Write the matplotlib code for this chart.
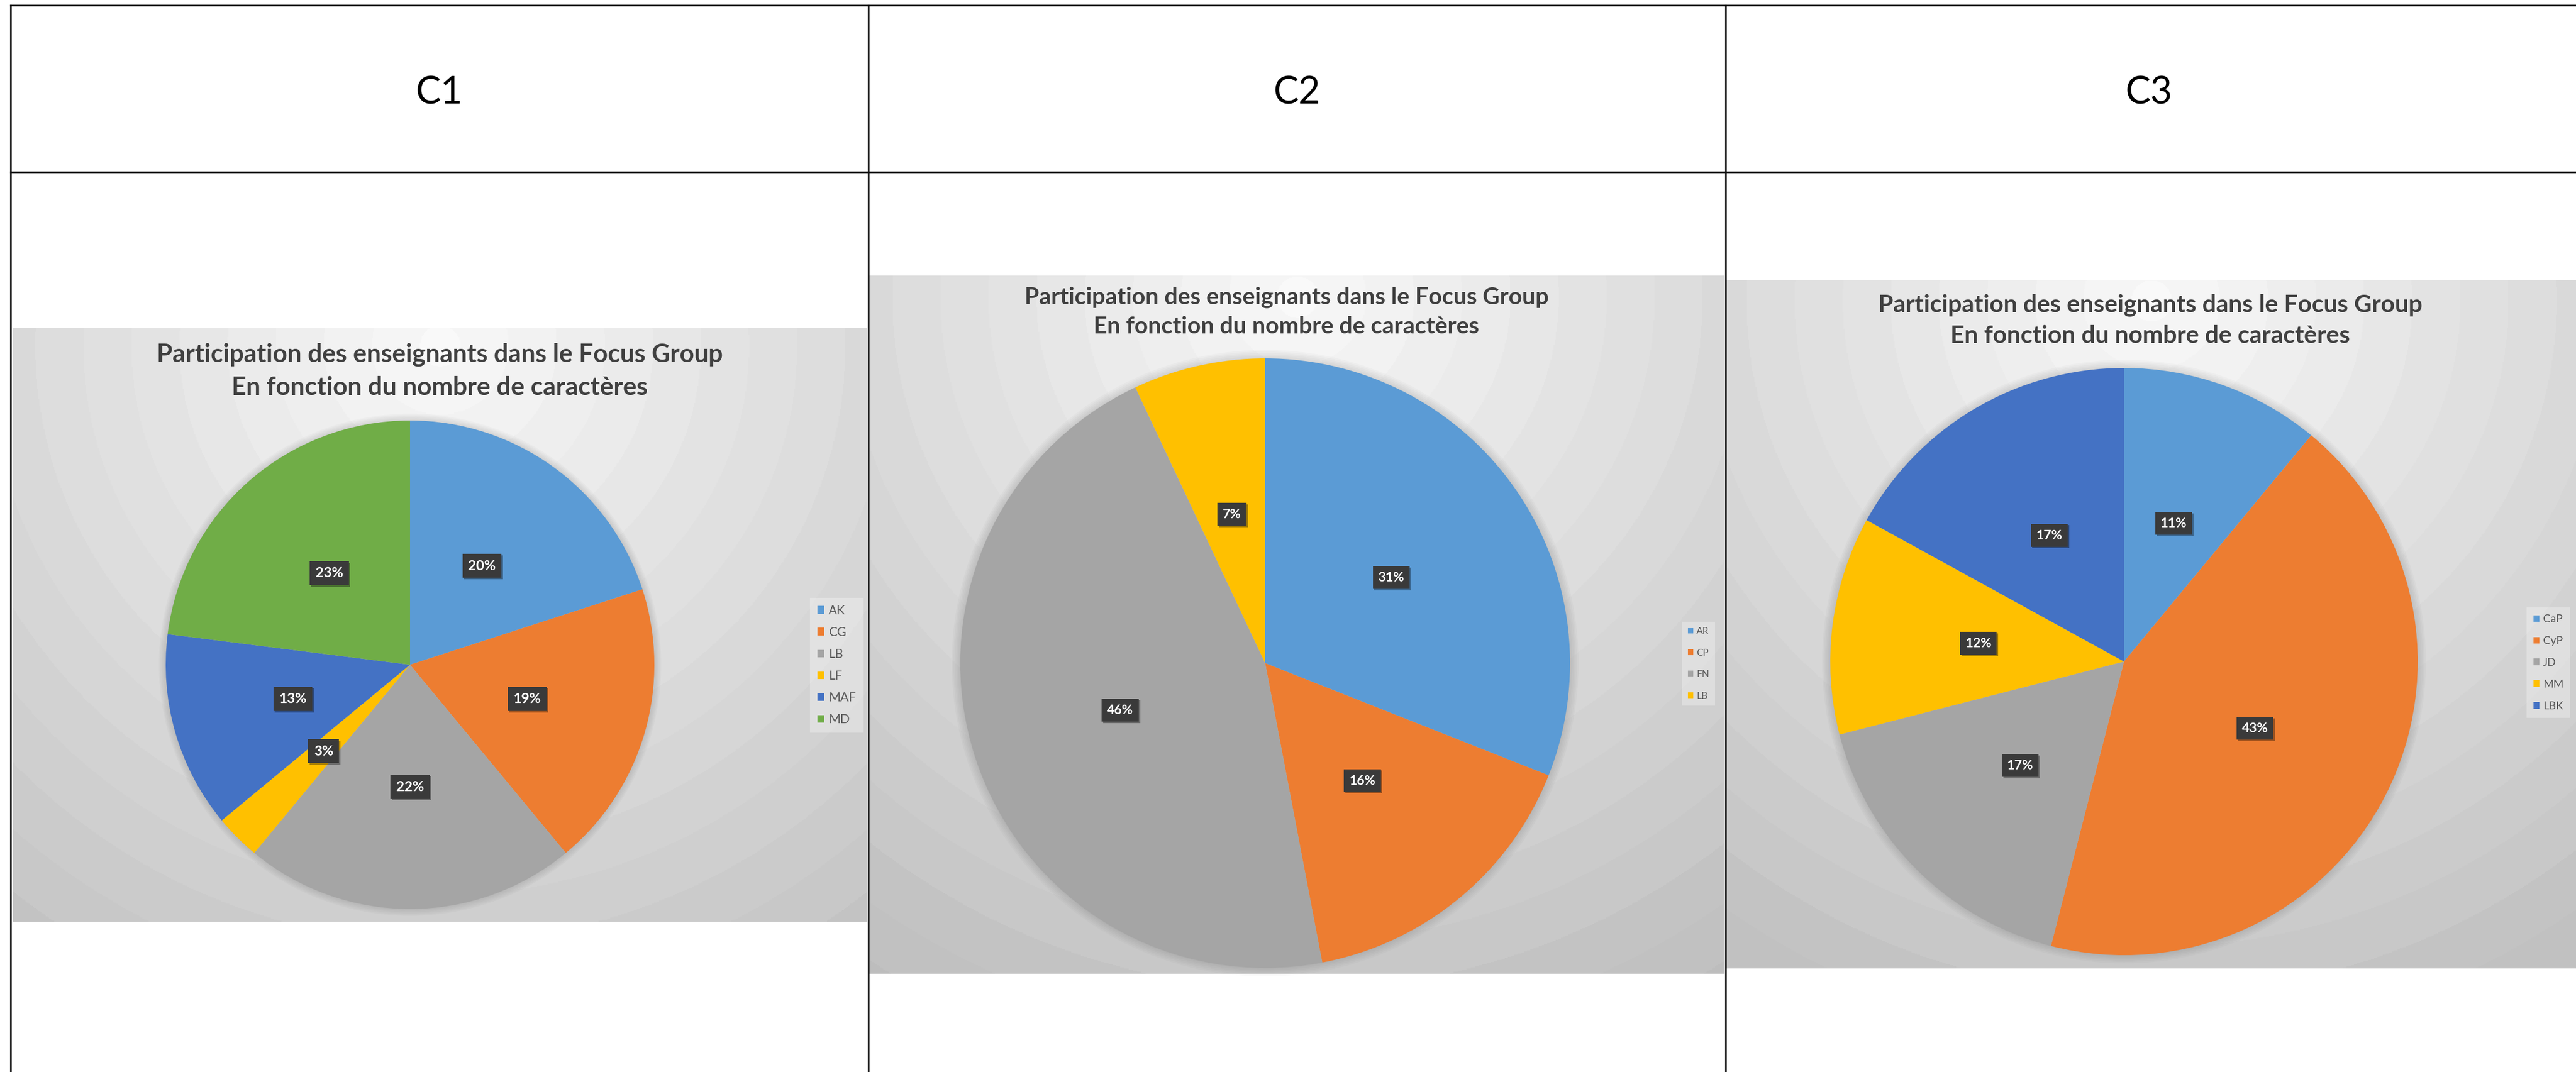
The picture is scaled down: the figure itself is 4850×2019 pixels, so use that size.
import numpy as np
import matplotlib
matplotlib.use('Agg')
import matplotlib.pyplot as plt
from matplotlib.lines import Line2D
from matplotlib.patches import Circle
import matplotlib.patheffects as pe

W, H = 4850, 2019

headers = ['C1', 'C2', 'C3']
title_l1 = 'Participation des enseignants dans le Focus Group'
title_l2 = 'En fonction du nombre de caractères'

c1_labels = ['AK', 'CG', 'LB', 'LF', 'MAF', 'MD']
c1_values = [20, 19, 22, 3, 13, 23]

c2_labels = ['AR', 'CP', 'FN', 'LB']
c2_values = [31, 16, 46, 7]

c3_labels = ['CaP', 'CyP', 'JD', 'MM', 'LBK']
c3_values = [11, 43, 17, 12, 17]

# couleurs du theme Office
colors = ['#5B9BD5', '#ED7D31', '#A5A5A5', '#FFC000', '#4472C4', '#70AD47']

fig = plt.figure(figsize=(W / 100, H / 100), dpi=100)
fig.patch.set_facecolor('white')


def fr(x0, y0, x1, y1):
    # pixels (origine en haut a gauche) -> fraction de figure
    return [x0 / W, 1 - y1 / H, (x1 - x0) / W, (y1 - y0) / H]


def draw_background(x0, x1, y0, y1):
    ax = fig.add_axes(fr(x0, y0, x1, y1))
    xs = np.arange(x0, x1, 2)
    ys = np.arange(y0, y1, 2)
    xx, yy = np.meshgrid(xs, ys)
    cx = (x0 + x1) / 2
    cy = y0 + 0.03 * (y1 - y0)
    d = np.hypot(xx - cx, yy - cy)
    g = 250 - 58 * np.clip(d / 1500, 0, 1)
    g = np.floor(g / 3.5) * 3.5
    ax.imshow(g, cmap='gray', vmin=0, vmax=255, aspect='auto',
              interpolation='nearest')
    ax.axis('off')
    return ax


def draw_pie(values, labels, cx, cy, r, fs):
    lim = 1.1
    ax = fig.add_axes(fr(cx - lim * r, cy - lim * r, cx + lim * r, cy + lim * r))
    ax.patch.set_alpha(0)
    # ombre douce autour du disque
    for k in range(6):
        ax.add_patch(Circle((0, 0), 1.003 + 0.005 * k, color='black', alpha=0.018, lw=0, zorder=0))
    wedges, texts, autotexts = ax.pie(
        values, colors=colors[:len(values)], startangle=90, counterclock=False,
        autopct='%1.0f%%', pctdistance=0.5, radius=1,
        textprops=dict(color='white', fontsize=fs, fontweight='bold', family='Lato'))
    for t in autotexts:
        t.set_bbox(dict(boxstyle='square,pad=0.4', fc='#3a3a3a', ec='none'))
        t.get_bbox_patch().set_path_effects(
            [pe.withSimplePatchShadow(offset=(2, -2), shadow_rgbFace='black', alpha=0.35)])
    ax.set_xlim(-lim, lim)
    ax.set_ylim(-lim, lim)
    ax.set_aspect('equal')
    ax.axis('off')
    return ax, wedges


def draw_legend(ax, wedges, labels, lx, ly, fs, spacing):
    leg = ax.legend(wedges, labels, loc='center left',
                    bbox_to_anchor=(lx / W, 1 - ly / H), bbox_transform=fig.transFigure,
                    frameon=True, fancybox=False, prop=dict(family='Lato', size=fs),
                    labelspacing=spacing, handlelength=0.55, handleheight=0.55,
                    handletextpad=0.35, borderpad=0.6, borderaxespad=0)
    leg.get_frame().set_facecolor('white')
    leg.get_frame().set_alpha(0.3)
    leg.get_frame().set_edgecolor('none')
    for t in leg.get_texts():
        t.set_color('#595959')
    return leg


def draw_title(xc, base1, base2, width1):
    t1 = fig.text(xc / W, 1 - base1 / H, title_l1, ha='center', va='baseline',
                  family='Lato', fontweight='bold', fontsize=30, color='#404040')
    t2 = fig.text(xc / W, 1 - base2 / H, title_l2, ha='center', va='baseline',
                  family='Lato', fontweight='bold', fontsize=30, color='#404040')
    rend = fig.canvas.get_renderer()
    w = t1.get_window_extent(renderer=rend).width
    size = 30 * width1 / w
    t1.set_fontsize(size)
    t2.set_fontsize(size)


# fonds des trois graphiques
draw_background(24, 1633, 617, 1736)
draw_background(1637, 3247, 519, 1834)
draw_background(3251, 4850, 528, 1824)

fig.canvas.draw()

# C1
ax1, w1 = draw_pie(c1_values, c1_labels, 772, 1252, 460, 19)
draw_legend(ax1, w1, c1_labels, 1525, 1253, 17, 0.85)
draw_title(828, 681, 744, 1066)

# C2
ax2, w2 = draw_pie(c2_values, c2_labels, 2382, 1249, 574, 18)
draw_legend(ax2, w2, c2_labels, 3167, 1250, 13, 1.35)
draw_title(2422, 572, 628, 986)

# C3
ax3, w3 = draw_pie(c3_values, c3_labels, 3999, 1246, 553, 18)
draw_legend(ax3, w3, c3_labels, 4757, 1248, 15, 1.0)
draw_title(4048, 587, 646, 1025)

# en-tetes du tableau
for name, xc in zip(headers, [827, 2442, 4046]):
    fig.text(xc / W, 1 - 196 / H, name, ha='center', va='baseline',
             family='Lato', fontweight='normal', fontsize=51, color='black')

# lignes du tableau
lw = 2.3
segs = [
    ((20, 4850), (10, 10)),
    ((20, 4850), (324, 324)),
    ((20, 20), (10, 2019)),
    ((1635, 1635), (10, 2019)),
    ((3249, 3249), (10, 2019)),
]
for xs, ys in segs:
    fig.add_artist(Line2D([x / W for x in xs], [1 - y / H for y in ys],
                          color='#111111', lw=lw, zorder=10))

fig.savefig('out.png', dpi=100)
